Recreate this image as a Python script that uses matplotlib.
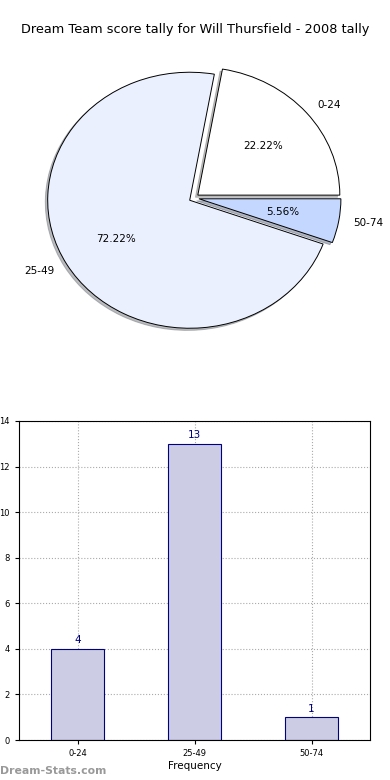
import matplotlib.pyplot as plt

labels = ['0-24', '25-49', '50-74']
counts = [4, 13, 1]
pie_colors = ['#FFFFFF', '#EAF0FE', '#C4D7FF']
explode = [0.035, 0.035, 0.035]

fig = plt.figure(figsize=(3.9, 7.8), dpi=100)

# pie (old style: not equal aspect, slightly elliptical)
ax1 = fig.add_axes([16.5/390, 1 - 358/780, 355/390, 320/780])
wedges, texts, autotexts = ax1.pie(counts, labels=labels, colors=pie_colors, explode=explode,
                                   autopct='%.2f%%', startangle=0,
                                   shadow={'ox': -0.012, 'oy': -0.012, 'shade': 0.5},
                                   wedgeprops=dict(edgecolor='black', linewidth=0.7),
                                   textprops=dict(fontsize=7.5))
ax1.set_aspect('auto')
ax1.set_xlim(-1.25, 1.25)
ax1.set_ylim(-1.25, 1.25)
fig.text(0.5, 1 - 30/780, 'Dream Team score tally for Will Thursfield - 2008 tally',
         ha='center', va='center', fontsize=9.3)

# bar chart
ax2 = fig.add_axes([19/390, 1 - 740/780, 351/390, 319/780])
x = range(len(labels))
ax2.bar(x, counts, width=0.45, color='#CCCCE5', edgecolor='#000080', linewidth=0.8, zorder=2)
for i, c in enumerate(counts):
    ax2.text(i, c + 0.15, str(c), ha='center', va='bottom', color='#000080', fontsize=7.5)
ax2.set_xlim(-0.5, 2.5)
ax2.set_ylim(0, 14)
ax2.set_yticks(range(0, 15, 2))
ax2.set_xticks(list(x))
ax2.set_xticklabels(labels)
ax2.tick_params(labelsize=6, length=3)
ax2.grid(True, linestyle=':', color='#AAAAAA', linewidth=0.8, zorder=0)
ax2.set_xlabel('Frequency', fontsize=7.5, labelpad=2)
ax2.set_ylabel('Score Intervals', fontsize=7)
ax2.yaxis.set_label_coords(-0.045, 0.5)

fig.text(0.0, 1 - 771/780, 'Dream-Stats.com', color='#999999', fontsize=7.8,
         fontweight='bold', ha='left', va='center')

plt.savefig('out.png', dpi=100)
